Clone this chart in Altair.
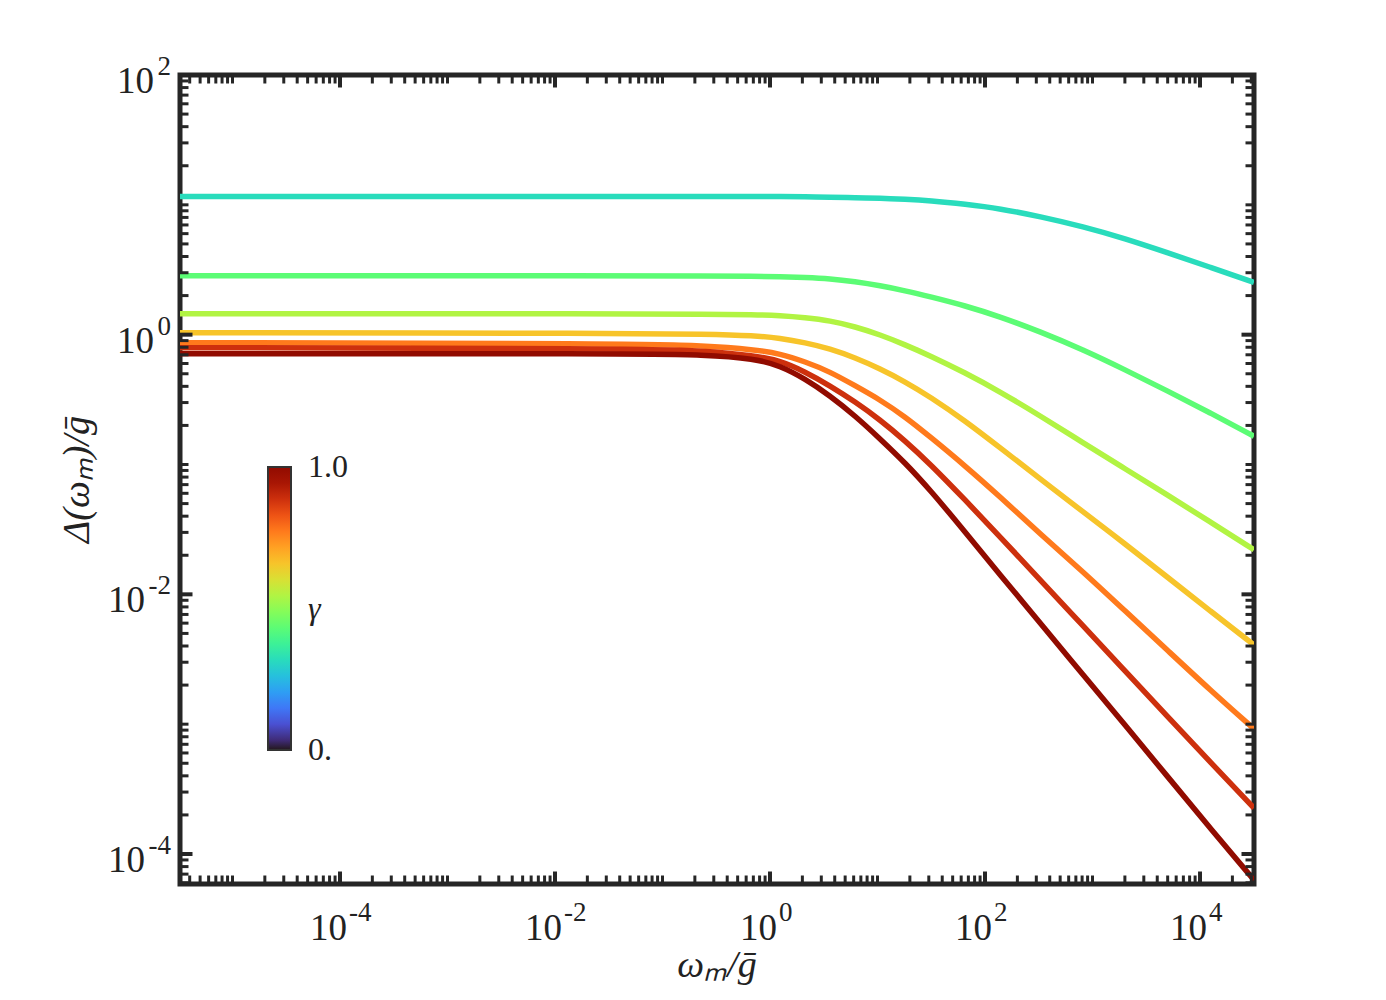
import altair as alt
import pandas as pd

SERIF = "Liberation Serif"
INK = "#222222"
FRAME = "#262626"
W, H = 1074, 809

# ---- data (omega_m / g-bar  ->  Delta(omega_m) / g-bar) ----
omega = [3.25e-6, 0.0499, 0.2483, 0.7244, 1.239, 2.117, 3.614, 6.177, 10.55, 18.03,
         30.77, 65.16, 138.0, 325.1, 816.6, 2004.0, 4932.0, 12390.0, 31770.0]
gammas = [0.4, 0.5, 0.6, 0.7, 0.8, 0.9, 1.0]
delta_04 = [11.58, 11.58, 11.58, 11.58, 11.58, 11.52, 11.46, 11.37, 11.23, 11.04,
            10.78, 10.13, 9.357, 8.117, 6.798, 5.494, 4.286, 3.313, 2.530]
delta_05 = [2.849, 2.849, 2.834, 2.814, 2.799, 2.759, 2.701, 2.562, 2.386, 2.183,
            1.963, 1.673, 1.376, 1.055, 0.7663, 0.5374, 0.3702, 0.2505, 0.1651]
delta_06 = [1.451, 1.451, 1.439, 1.426, 1.401, 1.352, 1.282, 1.153, 1.000, 0.8374,
            0.6889, 0.5095, 0.3636, 0.2375, 0.1471, 0.09273, 0.05846, 0.03621, 0.02203]
delta_07 = [1.036, 1.027, 1.009, 0.9824, 0.9397, 0.8676, 0.7800, 0.6649, 0.5470, 0.4343,
            0.3328, 0.2174, 0.1347, 0.07766, 0.04323, 0.02450, 0.01365, 0.007461, 0.004081]
delta_08 = [0.8676, 0.8524, 0.8227, 0.7663, 0.7138, 0.6193, 0.5186, 0.4045, 0.3155, 0.2334,
            0.1637, 0.09781, 0.05641, 0.02926, 0.01491, 0.007461, 0.003735, 0.001836, 0.0009192]
delta_09 = [0.7939, 0.7800, 0.7528, 0.6889, 0.6304, 0.5186, 0.4045, 0.3045, 0.2213, 0.1524,
            0.1013, 0.05349, 0.02774, 0.01294, 0.005717, 0.002573, 0.001158, 0.0005118, 0.0002262]
delta_10 = [0.7138, 0.7138, 0.7013, 0.6531, 0.5769, 0.4580, 0.3388, 0.2375, 0.1579, 0.1032,
            0.06389, 0.03032, 0.01414, 0.006031, 0.002397, 0.0009867, 0.0003992, 0.0001586, 0.00006304]

x_domain = [3.25e-6, 31770.0]
y_domain = [5.875e-5, 100.0]
x_label_exp = [-4, -2, 0, 2, 4]
y_label_exp = [-4, -2, 0, 2]
color_domain = [0.12, 1.0]
colorbar_labels = ["1.0", "γ", "0."]
colorbar_label_frac = [1.0, 0.5, 0.0]

# colorbar geometry (legend), in plot-area pixels
CB_X, CB_Y, CB_LEN, CB_THICK = 88, 392, 283, 23

# ---- tables ----
series = [delta_04, delta_05, delta_06, delta_07, delta_08, delta_09, delta_10]
rows = []
for g, ds in zip(gammas, series):
    for w, d in zip(omega, ds):
        rows.append({"omega": w, "delta": d, "gamma": g})
df = pd.DataFrame(rows)

xs = alt.Scale(type="log", domain=x_domain, nice=False)
ys = alt.Scale(type="log", domain=y_domain, nice=False)


def in_dom(v, dom):
    return dom[0] * 0.999 <= v <= dom[1] * 1.001


x_major = [10.0 ** e for e in x_label_exp]
y_major = [10.0 ** e for e in y_label_exp]
x_minor = [k * 10.0 ** e for e in range(-6, 5) for k in range(1, 10)
           if in_dom(k * 10.0 ** e, x_domain) and not (k == 1 and e in x_label_exp)]
y_minor = [k * 10.0 ** e for e in range(-5, 3) for k in range(1, 10)
           if in_dom(k * 10.0 ** e, y_domain) and not (k == 1 and e in y_label_exp)]

layers = []

lines = alt.Chart(df).mark_line(strokeWidth=5.5, interpolate="basis", clip=True).encode(
    x=alt.X("omega:Q", scale=xs, axis=None),
    y=alt.Y("delta:Q", scale=ys, axis=None),
    color=alt.Color(
        "gamma:Q",
        scale=alt.Scale(scheme="turbo", domain=color_domain),
        legend=alt.Legend(
            orient="none", legendX=CB_X, legendY=CB_Y, direction="vertical",
            gradientLength=CB_LEN, gradientThickness=CB_THICK,
            gradientStrokeColor="#333333", gradientStrokeWidth=2,
            labelOpacity=0, title=None, padding=0,
        ),
    ),
    detail="gamma:N",
)
layers.append(lines)


def xticks(vals, length, sw):
    d = pd.DataFrame({"v": vals})
    base = alt.Chart(d).mark_rule(color=FRAME, strokeWidth=sw)
    enc_x = alt.X("v:Q", scale=xs, axis=None)
    return [
        base.encode(x=enc_x, y=alt.value(H), y2=alt.value(H - length)),
        base.encode(x=enc_x, y=alt.value(0), y2=alt.value(length)),
    ]


def yticks(vals, length, sw):
    d = pd.DataFrame({"v": vals})
    base = alt.Chart(d).mark_rule(color=FRAME, strokeWidth=sw)
    enc_y = alt.Y("v:Q", scale=ys, axis=None)
    return [
        base.encode(y=enc_y, x=alt.value(0), x2=alt.value(length)),
        base.encode(y=enc_y, x=alt.value(W), x2=alt.value(W - length)),
    ]


layers += xticks(x_minor, 8.5, 3)
layers += xticks(x_major, 12.5, 4)
layers += yticks(y_minor, 8.5, 3)
layers += yticks(y_major, 12.5, 4)

# ---- tick labels (10 with superscript exponent) ----
xl = pd.DataFrame({"v": x_major, "e": [str(e) for e in x_label_exp]})
layers.append(
    alt.Chart(xl).mark_text(text="10", align="right", baseline="alphabetic", font=SERIF,
                            fontSize=37, color=INK, dx=7).encode(
        x=alt.X("v:Q", scale=xs, axis=None), y=alt.value(H + 56))
)
layers.append(
    alt.Chart(xl).mark_text(align="left", baseline="alphabetic", font=SERIF,
                            fontSize=27, color=INK, dx=9).encode(
        x=alt.X("v:Q", scale=xs, axis=None), y=alt.value(H + 37), text="e:N")
)

yl = pd.DataFrame({"v": y_major, "e": [str(e) for e in y_label_exp],
                   "neg": [e < 0 for e in y_label_exp]})
layers.append(
    alt.Chart(yl).transform_filter("datum.neg").mark_text(
        text="10", align="right", baseline="alphabetic", font=SERIF, fontSize=37,
        color=INK, dy=18).encode(y=alt.Y("v:Q", scale=ys, axis=None), x=alt.value(-35))
)
layers.append(
    alt.Chart(yl).transform_filter("!datum.neg").mark_text(
        text="10", align="right", baseline="alphabetic", font=SERIF, fontSize=37,
        color=INK, dy=18).encode(y=alt.Y("v:Q", scale=ys, axis=None), x=alt.value(-26))
)
layers.append(
    alt.Chart(yl).mark_text(align="right", baseline="alphabetic", font=SERIF, fontSize=27,
                            color=INK, dy=0).encode(
        y=alt.Y("v:Q", scale=ys, axis=None), x=alt.value(-9), text="e:N")
)

# ---- colorbar labels and mid tick ----
for lab, f in zip(colorbar_labels, colorbar_label_frac):
    layers.append(
        alt.Chart(pd.DataFrame({"t": [lab]})).mark_text(
            align="left", baseline="middle", font=SERIF, fontSize=32, color=INK,
            fontStyle="italic" if lab == "γ" else "normal").encode(
            x=alt.value(CB_X + CB_THICK + 17),
            y=alt.value(CB_Y + CB_LEN * (1 - f)),
            text="t:N")
    )
layers.append(
    alt.Chart(pd.DataFrame({"t": ["γ"]})).mark_rule(color="#333333", strokeWidth=2).encode(
        x=alt.value(CB_X + CB_THICK - 4), x2=alt.value(CB_X + CB_THICK),
        y=alt.value(CB_Y + CB_LEN * 0.5))
)

# ---- axis titles ----
titles = pd.DataFrame({"xt": ["ωₘ/g\u0304"], "yt": ["Δ(ωₘ)/g\u0304"]})
layers.append(
    alt.Chart(titles).mark_text(font=SERIF, fontSize=38, fontStyle="italic", color=INK,
                                align="center", baseline="alphabetic").encode(
        x=alt.value(W / 2), y=alt.value(H + 93), text="xt:N")
)
layers.append(
    alt.Chart(titles).mark_text(font=SERIF, fontSize=38, fontStyle="italic", color=INK,
                                align="center", baseline="middle", angle=270).encode(
        x=alt.value(-102), y=alt.value(H / 2), text="yt:N")
)

chart = alt.layer(*layers).properties(
    width=W, height=H,
    padding={"left": 172, "top": 67, "right": 110, "bottom": 112},
    autosize=alt.AutoSizeParams(type="none"),
    background="white",
).configure_view(stroke=FRAME, strokeWidth=5)

chart.save("out.html", embed_options={"renderer": "svg", "actions": False})
